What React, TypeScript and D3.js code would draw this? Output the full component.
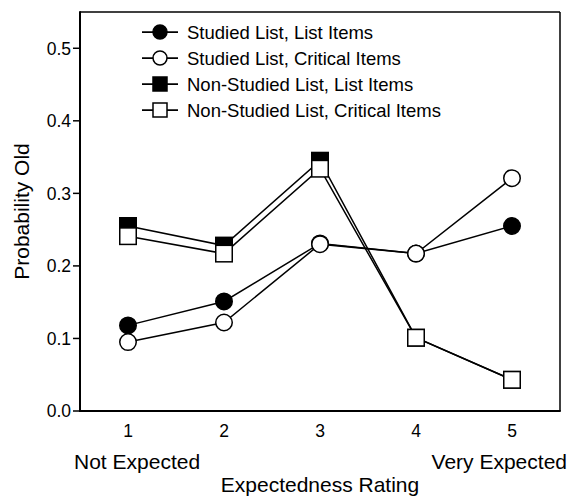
import React from 'react';
import * as d3 from 'd3';

// expectedness ratings on the x axis
const ratings = [1, 2, 3, 4, 5];
const yTicks = [0.0, 0.1, 0.2, 0.3, 0.4, 0.5];

const seriesNames = [
  'Studied List, List Items',
  'Studied List, Critical Items',
  'Non-Studied List, List Items',
  'Non-Studied List, Critical Items',
];
const studiedList = [0.118, 0.151, 0.231, 0.217, 0.255];
const studiedCritical = [0.095, 0.122, 0.23, 0.217, 0.321];
const nonStudiedList = [0.255, 0.228, 0.345, 0.101, 0.043];
const nonStudiedCritical = [0.241, 0.217, 0.334, 0.101, 0.043];

type Marker = 'circle' | 'square';
const seriesValues = [studiedList, studiedCritical, nonStudiedList, nonStudiedCritical];
const seriesShape: Marker[] = ['circle', 'circle', 'square', 'square'];
const seriesFill = ['#000', '#fff', '#000', '#fff'];

const W = 570;
const H = 496;
const M = { left: 80, top: 12, right: 10, bottom: 85 };
const FONT = '"Liberation Sans", Arial, Helvetica, sans-serif';

const App: React.FC = () => {
  const x = d3.scaleLinear().domain([0.5, 5.5]).range([M.left, W - M.right]);
  const y = d3.scaleLinear().domain([0, 0.55]).range([H - M.bottom, M.top]);
  const line = d3
    .line<number>()
    .x((_, i) => x(ratings[i]))
    .y((d) => y(d));

  const x0 = x.range()[0];
  const x1 = x.range()[1];
  const yBottom = y.range()[0];
  const yTop = y.range()[1];

  const drawMarker = (shape: Marker, cx: number, cy: number, fill: string, size: number, key: string) =>
    shape === 'circle' ? (
      <circle key={key} cx={cx} cy={cy} r={size / 2} fill={fill} stroke="#000" strokeWidth={1.5} />
    ) : (
      <rect key={key} x={cx - size / 2} y={cy - size / 2} width={size} height={size} fill={fill} stroke="#000" strokeWidth={1.5} />
    );

  // legend rows
  const legendY = d3.scaleLinear().domain([0, 3]).range([32, 110]);

  return (
    <svg width={W} height={H} style={{ position: 'fixed', left: 0, top: 0, background: '#fff' }} fontFamily={FONT}>
      {/* frame */}
      <line x1={x0} x2={x1} y1={yTop} y2={yTop} stroke="#000" strokeWidth={1.5} />
      <line x1={x1} x2={x1} y1={yTop} y2={yBottom} stroke="#000" strokeWidth={1.5} />
      <line x1={x0} x2={x1 + 0.75} y1={yBottom} y2={yBottom} stroke="#000" strokeWidth={2} />
      <line x1={x0} x2={x0} y1={yTop - 0.75} y2={yBottom + 1} stroke="#000" strokeWidth={2} />

      {/* y ticks */}
      {yTicks.map((t) => (
        <g key={t}>
          <line x1={x0 - 7} x2={x0} y1={y(t)} y2={y(t)} stroke="#000" strokeWidth={1.5} />
          <text x={x0 - 9} y={y(t)} dy="0.36em" textAnchor="end" fontSize={17.5}>
            {d3.format('.1f')(t)}
          </text>
        </g>
      ))}

      {/* x tick labels (no marks) */}
      {ratings.map((r) => (
        <text key={r} x={x(r)} y={437} textAnchor="middle" fontSize={17.5}>
          {r}
        </text>
      ))}
      <text x={74} y={469} fontSize={21}>Not Expected</text>
      <text x={567} y={469} fontSize={21} textAnchor="end">Very Expected</text>
      <text x={(x0 + x1) / 2} y={492} fontSize={21} textAnchor="middle">Expectedness Rating</text>
      <text transform={`translate(29,${(yTop + yBottom) / 2}) rotate(-90)`} fontSize={21} textAnchor="middle">
        Probability Old
      </text>

      {/* series */}
      {seriesValues.map((vals, s) => (
        <g key={seriesNames[s]}>
          <path d={line(vals) || undefined} fill="none" stroke="#000" strokeWidth={1.5} />
          {vals.map((v, i) => drawMarker(seriesShape[s], x(ratings[i]), y(v), seriesFill[s], 16.5, `${s}-${i}`))}
        </g>
      ))}

      {/* legend */}
      {seriesNames.map((name, s) => (
        <g key={name} transform={`translate(0,${legendY(s)})`}>
          <line x1={142} x2={178} y1={0} y2={0} stroke="#000" strokeWidth={1.75} />
          {drawMarker(seriesShape[s], 160, 0, seriesFill[s], 14, `lg-${s}`)}
          <text x={187} y={0} dy="0.36em" fontSize={18.5}>
            {name}
          </text>
        </g>
      ))}
    </svg>
  );
};

export default App;
